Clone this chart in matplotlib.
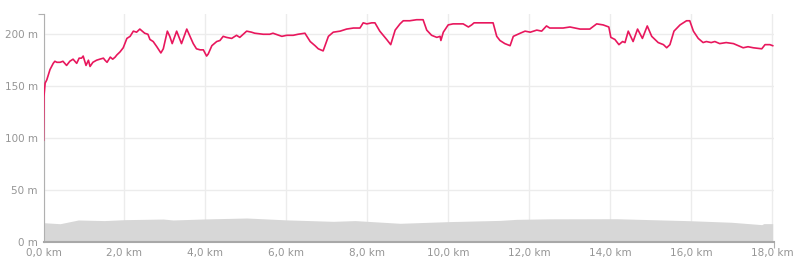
import matplotlib.pyplot as plt
from matplotlib.ticker import FuncFormatter

# elevation profile (km, m)
dist_km = [0.0, 0.01, 0.04, 0.08, 0.16, 0.24, 0.28, 0.33, 0.41, 0.48, 0.57, 0.65, 0.73, 0.82, 0.88,
           0.94, 0.98, 1.05, 1.11, 1.15, 1.22, 1.31, 1.39, 1.48, 1.52, 1.57, 1.65, 1.71, 1.77, 1.81,
           1.89, 1.97, 2.06, 2.14, 2.22, 2.30, 2.38, 2.50, 2.58, 2.63, 2.71, 2.80, 2.90, 2.96, 3.06,
           3.12, 3.18, 3.29, 3.41, 3.54, 3.62, 3.70, 3.78, 3.87, 3.95, 4.03, 4.07, 4.16, 4.28, 4.36,
           4.44, 4.52, 4.65, 4.77, 4.85, 5.02, 5.14, 5.22, 5.43, 5.59, 5.67, 5.89, 6.01, 6.17, 6.29,
           6.46, 6.59, 6.71, 6.79, 6.91, 7.04, 7.16, 7.33, 7.49, 7.66, 7.82, 7.90, 7.99, 8.11, 8.19,
           8.31, 8.48, 8.58, 8.69, 8.81, 8.89, 9.05, 9.22, 9.30, 9.38, 9.47, 9.59, 9.72, 9.80, 9.82,
           9.88, 10.00, 10.12, 10.37, 10.50, 10.58, 10.64, 10.70, 11.11, 11.20, 11.28, 11.40, 11.53,
           11.61, 11.78, 11.90, 12.03, 12.19, 12.31, 12.43, 12.51, 12.68, 12.84, 13.01, 13.13, 13.26,
           13.50, 13.67, 13.83, 13.97, 14.02, 14.12, 14.22, 14.31, 14.37, 14.45, 14.57, 14.68, 14.80,
           14.92, 15.03, 15.19, 15.32, 15.40, 15.48, 15.58, 15.73, 15.89, 15.97, 16.06, 16.18, 16.30,
           16.38, 16.50, 16.59, 16.71, 16.87, 17.05, 17.29, 17.41, 17.54, 17.75, 17.83, 17.95, 18.02]
elev_m = [98, 140, 153, 156, 166, 172, 174, 173, 173, 174, 170, 174, 176, 172, 177,
          177, 179, 170, 175, 169, 173, 175, 176, 177, 175, 173, 178, 176, 178, 180,
          183, 187, 196, 198, 203, 202, 205, 201, 200, 195, 193, 188, 182, 186, 203,
          198, 191, 203, 191, 205, 198, 191, 186, 185, 185, 179, 181, 189, 193, 194,
          198, 197, 196, 199, 197, 203, 202, 201, 200, 200, 201, 198, 199, 199, 200,
          201, 193, 189, 186, 184, 198, 202, 203, 205, 206, 206, 211, 210, 211, 211,
          203, 195, 190, 204, 210, 213, 213, 214, 214, 214, 204, 199, 197, 198, 194,
          202, 209, 210, 210, 207, 209, 211, 211, 211, 198, 194, 191, 189,
          198, 201, 203, 202, 204, 203, 208, 206, 206, 206, 207, 206, 205,
          205, 210, 209, 207, 197, 195, 190, 193, 192, 203, 193, 205, 196,
          208, 198, 192, 190, 187, 190, 203, 209, 213, 213, 203, 196, 192,
          193, 192, 193, 191, 192, 191, 187, 188, 187, 186, 190, 190, 189]

# grey surface band
ground_km = [0.0, 0.41, 0.86, 1.5, 2.0, 2.96, 3.2, 4.0, 5.02, 6.0, 7.16, 7.7, 8.81,
             10.0, 11.28, 11.69, 12.5, 14.16, 15.97, 17.0, 17.75, 17.8, 18.02]
ground_m = [18.6, 17.6, 21.2, 20.6, 21.5, 22.1, 21.2, 22.2, 23.1, 21.3, 19.9, 20.6, 18.0,
            19.6, 20.8, 21.8, 22.3, 22.4, 20.5, 19.0, 16.7, 17.7, 17.7]

x_ticks = [0, 2, 4, 6, 8, 10, 12, 14, 16, 18]
y_ticks = [0, 50, 100, 150, 200]
x_max, y_max = 18.05, 219.5

fig = plt.figure(figsize=(8, 2.72), dpi=100)
ax = fig.add_axes([0.0544, 0.1103, 0.913, 0.8382])

ax.fill_between(ground_km, ground_m, 0, color='#d7d7d7', lw=0, zorder=2)
ax.plot(dist_km, elev_m, color='#e8175d', lw=1.2, zorder=3)

ax.set_xlim(0, x_max)
ax.set_ylim(0, y_max)
ax.set_xticks(x_ticks)
ax.set_yticks(y_ticks)
# little end caps on the axes
ax.set_xticks([0, x_max], minor=True)
ax.set_yticks([0, y_max], minor=True)
ax.xaxis.set_major_formatter(FuncFormatter(lambda v, p: f'{v:.1f}'.replace('.', ',') + ' km'))
ax.yaxis.set_major_formatter(FuncFormatter(lambda v, p: f'{v:.0f} m'))
ax.grid(True, which='major', color='#ececec', lw=1, zorder=0)
ax.set_axisbelow(True)

for s in ['top', 'right']:
    ax.spines[s].set_visible(False)
ax.spines['left'].set_color('#b0b0b0')
ax.spines['bottom'].set_color('#a8a8a8')
ax.spines['bottom'].set_linewidth(1.5)
ax.tick_params(which='major', length=0, labelcolor='#959595', labelsize=7.5, pad=4)
ax.tick_params(which='minor', length=4, width=0.8, color='#b0b0b0')

plt.savefig('out.png', dpi=100)
